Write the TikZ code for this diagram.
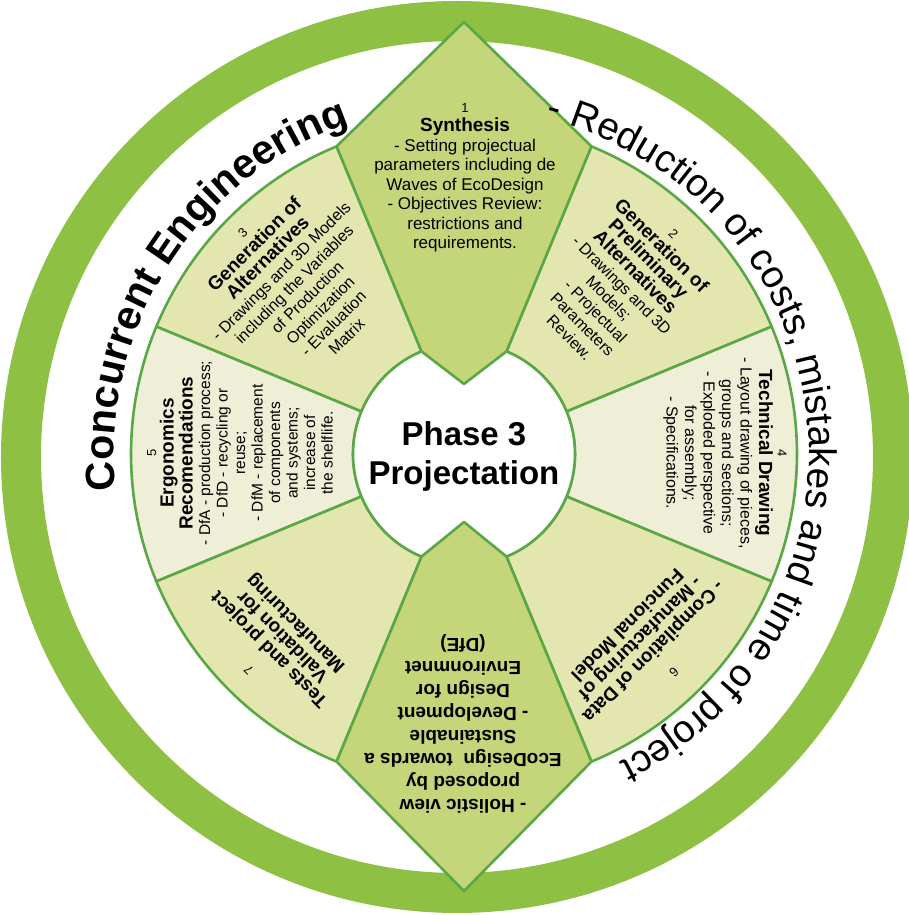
\documentclass[tikz,border=0pt]{standalone}
\usepackage{fontspec}
\setmainfont{Liberation Sans}
\usetikzlibrary{decorations.text}

\definecolor{ringgreen}{HTML}{8EC043}
\definecolor{kitegreen}{HTML}{C4D57A}
\definecolor{secA}{HTML}{E4E6B0}
\definecolor{secB}{HTML}{EFEED6}
\definecolor{edge}{HTML}{5AA746}

\newcommand\hd[1]{{\fontsize{19}{21}\selectfont\bfseries #1}}
\newcommand\nr[1]{{\fontsize{13}{15}\selectfont #1}}
\newcommand\cefont{\fontsize{41}{41}\selectfont\bfseries}
\newcommand\rdfont{\fontsize{38.5}{38.5}\selectfont}

\begin{document}
\begin{tikzpicture}[x=1pt,y=1pt,
  seg/.style={draw=edge, line width=2.6pt, line join=round},
  lbl/.style={align=center, inner sep=0pt, font=\fontsize{16}{18.5}\selectfont},
  ]
\useasboundingbox (-464,-461) rectangle (444,454);

% outer ring
\draw[ringgreen, line width=40pt] (-7,-3) circle (436);

% six annular sectors
\foreach \a/\c in {45/secA, 0/secB, -45/secA, 135/secA, 180/secB, 225/secA}{
  \path[seg, fill=\c] ({\a-22.5}:111) -- ({\a-22.5}:333)
    arc[start angle={\a-22.5}, end angle={\a+22.5}, radius=333]
    -- ({\a+22.5}:111)
    arc[start angle={\a+22.5}, end angle={\a-22.5}, radius=111] -- cycle;
}

% central disc
\draw[seg, fill=white] (0,0) circle (111);

% top and bottom pointed segments
\path[seg, fill=kitegreen] (0,432) -- (67.5:333) -- (67.5:111) -- (0,70)
  -- (112.5:111) -- (112.5:333) -- cycle;
\path[seg, fill=kitegreen] (0,-437) -- (-67.5:333) -- (-67.5:111) -- (0,-68)
  -- (-112.5:111) -- (-112.5:333) -- cycle;

% centre title
\node[align=center, inner sep=0pt, font=\fontsize{33}{39}\selectfont\bfseries]
  (phase) at (0,-2) {Phase 3\\Projectation};

% segment texts
\node[lbl, font=\fontsize{17}{19.5}\selectfont] (s1) at (1,276)
  {\nr{1}\\ \hd{Synthesis}\\ - Setting projectual\\ parameters including de\\
   Waves of EcoDesign\\ - Objectives Review:\\ restrictions and\\ requirements.};

\node[lbl, rotate=-45] (s2) at (157,168)
  {\nr{2}\\ \hd{Generation of}\\ \hd{Preliminary}\\ \hd{Alternatives}\\
   - Drawings and 3D\\ Models;\\ - Projectual\\ Parameters\\ Review.};

\node[lbl, rotate=45] (s3) at (-169,169)
  {\nr{3}\\ \hd{Generation of}\\ \hd{Alternatives}\\ - Drawings and 3D Models\\
   including the Variables\\ of Production\\ Optimization\\ - Evaluation\\ Matrix};

\node[lbl, rotate=-90] (s4) at (261,1)
  {\nr{4}\\ \hd{Technical Drawing}\\ - Layout drawing of pieces,\\ groups and sections;\\
   - Exploded perspective\\ for assembly;\\ - Specifications.};

\node[lbl, rotate=90, font=\fontsize{15.5}{17.5}\selectfont] (s5) at (-224,1)
  {\nr{5}\\ \hd{Ergonomics}\\ \hd{Recomendations}\\ - DfA - production process;\\
   - DfD - recycling or\\ reuse;\\ - DfM - replacement\\ of components\\
   and systems;\\ increase of\\ the shelflife.};

\node[lbl, rotate=-135] (s6) at (186,-194)
  {\nr{6}\\[12pt] \hd{- Compilation of Data}\\ \hd{- Manufacturing of}\\ \hd{Funcional Model}};

\node[lbl, rotate=135] (s7) at (-190,-191)
  {\nr{7}\\[12pt] \hd{Tests and project}\\ \hd{Validation for}\\ \hd{Manufacturing}};

\node[lbl, rotate=180, font=\fontsize{19}{23}\selectfont\bfseries] (s8) at (-1,-270)
  {- Holistic view\\ proposed by\\ EcoDesign\ \ towards a\\ Sustainable\\
   - Development\\ Design for\\ Environmnet\\ (DfE)};

% curved captions inside the ring
\path[decorate, decoration={text along path, text align=center,
  text={|\cefont|Concurrent Engineering}}]
  (207.5:350) arc[start angle=207.5, end angle=87.5, radius=350];
\path[decorate, decoration={text along path, text align=center,
  text={|\rdfont|- Reduction of costs, mistakes and time of project}}]
  (106.5:345) arc[start angle=106.5, end angle=-93.5, radius=345];
\end{tikzpicture}
\end{document}
